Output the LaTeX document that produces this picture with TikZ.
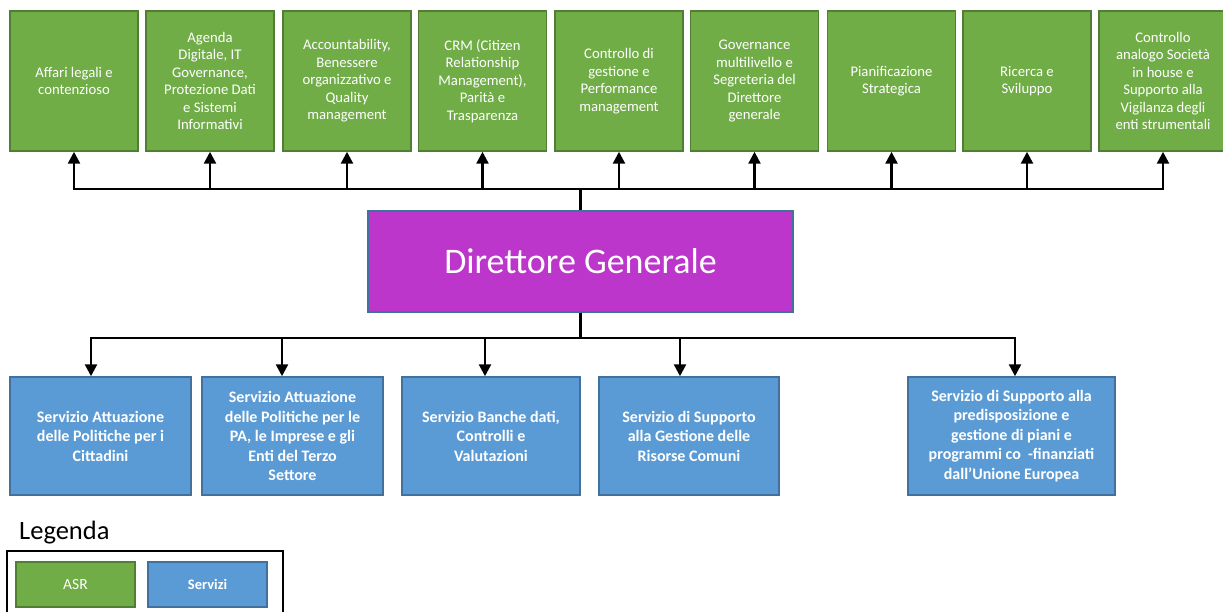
\documentclass[tikz,border=0pt]{standalone}
\usepackage{fontspec}
\setmainfont{Carlito}
\usepackage{xcolor}
\usetikzlibrary{arrows.meta}
\definecolor{asrgreen}{RGB}{112,173,71}
\definecolor{asrborder}{RGB}{80,126,50}
\definecolor{servblue}{RGB}{91,155,213}
\definecolor{servborder}{RGB}{65,113,156}
\definecolor{dgmagenta}{RGB}{188,54,204}

\begin{document}
\begin{tikzpicture}[x=1pt, y=-1pt,
  asr/.style={draw=asrborder, fill=asrgreen, line width=1.5pt, minimum width=128pt, minimum height=140pt, inner sep=0pt, text=white, align=center, font=\fontsize{14.7}{17.5}\selectfont},
  serv/.style={draw=servborder, fill=servblue, line width=1.5pt, minimum height=118pt, inner sep=0pt, text=white, align=center, font=\fontsize{16}{19.5}\selectfont\bfseries},
  conn/.style={line width=2.5pt, -{Triangle[width=12pt,length=12pt]}}]
\useasboundingbox (0,0) rectangle (1223,612);
\node[asr] (a1) at (74,81) {Affari legali e\\contenzioso};
\node[asr] (a2) at (210,81) {Agenda\\Digitale, IT\\Governance,\\Protezione Dati\\e Sistemi\\Informativi};
\node[asr] (a3) at (347,81) {Accountability,\\Benessere\\organizzativo e\\Quality\\management};
\node[asr] (a4) at (482.5,81) {CRM (Citizen\\Relationship\\Management),\\Parità e\\Trasparenza};
\node[asr] (a5) at (619,81) {Controllo di\\gestione e\\Performance\\management};
\node[asr] (a6) at (754.5,81) {Governance\\multilivello e\\Segreteria del\\Direttore\\generale};
\node[asr] (a7) at (891.5,81) {Pianificazione\\Strategica};
\node[asr] (a8) at (1027,81) {Ricerca e\\Sviluppo};
\node[asr] (a9) at (1163,81) {Controllo\\analogo Società\\in house e\\Supporto alla\\Vigilanza degli\\enti strumentali};
\node[draw=servborder, fill=dgmagenta, line width=1.5pt, minimum width=425pt, minimum height=101pt, text=white, font=\fontsize{36}{42}\selectfont] (dg) at (580.5,261.5) {Direttore Generale};
\node[serv, minimum width=181pt] (s1) at (100.5,436) {Servizio Attuazione\\delle Politiche per i\\Cittadini};
\node[serv, minimum width=181pt] (s2) at (292.5,436) {Servizio Attuazione\\delle Politiche per le\\PA, le Imprese e gli\\Enti del Terzo\\Settore};
\node[serv, minimum width=178pt] (s3) at (491,436) {Servizio Banche dati,\\Controlli e\\Valutazioni};
\node[serv, minimum width=180pt] (s4) at (689,436) {Servizio di Supporto\\alla Gestione delle\\Risorse Comuni};
\node[serv, minimum width=207pt] (s5) at (1011.5,436) {Servizio di Supporto alla\\predisposizione e\\gestione di piani e\\programmi co\ \ -finanziati\\dall’Unione Europea};
\foreach \i in {1,...,9}
  \draw[conn] (dg.north) -- ++(0,-21) -| (a\i.south);
\foreach \i/\dx in {1/-9.5,2/-10.5,3/-6,4/-9,5/3.5}
  \draw[conn] (dg.south) -- ++(0,25) -| ([xshift=\dx pt]s\i.north);
\node[anchor=base west, inner sep=0pt, font=\fontsize{26.5}{30}\selectfont] (leg) at (19,539) {Legenda};
\draw[line width=2pt] (7,551) rectangle (283,620);
\node[asr, minimum width=119pt, minimum height=45pt, font=\fontsize{15.5}{18}\selectfont] (kasr) at (75.5,584.5) {ASR};
\node[serv, minimum width=119pt, minimum height=45pt, font=\fontsize{14.5}{17}\selectfont\bfseries] (kserv) at (207.5,584.5) {Servizi};
\end{tikzpicture}
\end{document}
